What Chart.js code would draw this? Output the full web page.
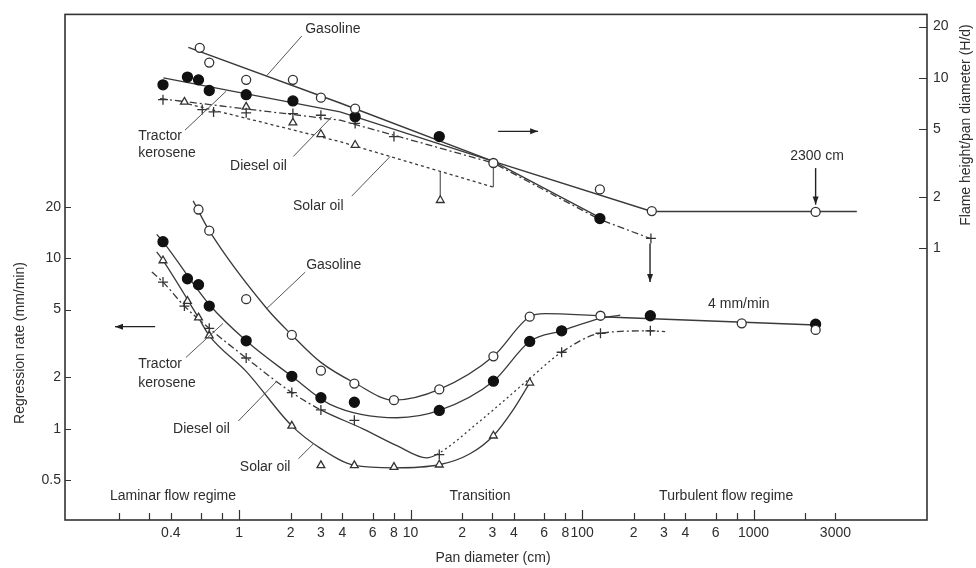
<!DOCTYPE html>
<html>
<head>
<meta charset="utf-8">
<script src="https://cdn.jsdelivr.net/npm/chart.js@4.4.1/dist/chart.umd.min.js"></script>
<style>
  html, body { margin: 0; padding: 0; background: #fff; }
  #wrap { width: 976px; height: 568px; }
</style>
</head>
<body>
<div id="wrap"><canvas id="c" width="976" height="568"></canvas></div>
<script>
// ---- Axis ticks ----
const xTickValues = [0.2, 0.3, 0.4, 0.6, 0.8, 1, 2, 3, 4, 6, 8, 10, 20, 30, 40, 60, 80, 100, 200, 300, 400, 600, 800, 1000, 2000, 3000];
const xTickLabels = ['', '', '0.4', '', '', '1', '2', '3', '4', '6', '8', '10', '2', '3', '4', '6', '8', '100', '2', '3', '4', '6', '', '1000', '', '3000'];
const xMajorTicks = [1, 10, 100, 1000];
const rateTicks = [0.5, 1, 2, 5, 10, 20];
const ratioTicks = [1, 2, 5, 10, 20];

// ---- Regression rate (mm/min) vs pan diameter (cm) ----
const gasRateD = [0.58, 0.67, 1.1, 2.03, 3.0, 4.7, 8.0, 14.7, 30.4, 49.5, 128, 853, 2300];
const gasRate  = [19.3, 14.5, 5.75, 3.55, 2.19, 1.84, 1.47, 1.70, 2.66, 4.54, 4.6, 4.15, 3.8];
const kerRateD = [0.36, 0.5, 0.58, 0.67, 1.1, 2.03, 3.0, 4.7, 14.7, 30.4, 49.5, 76, 250, 2300];
const kerRate  = [12.5, 7.58, 7.0, 5.24, 3.28, 2.03, 1.52, 1.43, 1.28, 1.9, 3.25, 3.75, 4.6, 4.1];
const dieRateD = [0.36, 0.48, 0.67, 1.1, 2.03, 3.0, 4.7, 14.7, 76, 128, 250];
const dieRate  = [7.25, 5.24, 3.88, 2.6, 1.63, 1.29, 1.12, 0.706, 2.81, 3.63, 3.75];
const solRateD = [0.36, 0.5, 0.58, 0.67, 2.03, 3.0, 4.7, 8.0, 14.7, 30.4, 49.5];
const solRate  = [9.7, 5.6, 4.48, 3.52, 1.04, 0.61, 0.61, 0.596, 0.615, 0.91, 1.86];

// smoothed trend curves for the regression rate
const gasCurveD = [0.54, 0.67, 1.45, 2.03, 3.0, 4.7, 8.0, 14.7, 30.4, 49.5, 60.9, 128];
const gasCurve  = [21.7, 14.5, 5.07, 3.55, 2.45, 1.86, 1.47, 1.70, 2.66, 4.54, 4.73, 4.6];
const turbLineD = [128, 2300];
const turbLine  = [4.54, 4.06];
const kerCurveD = [0.331, 0.36, 0.67, 1.1, 2.03, 3.39, 8.31, 14.7, 30.4, 49.5, 76, 128, 167];
const kerCurve  = [13.8, 12.5, 5.35, 3.28, 2.03, 1.39, 1.16, 1.28, 1.9, 3.25, 3.75, 4.44, 4.64];
const dieCurveD = [0.31, 0.36, 0.48, 0.67, 1.1, 2.03, 3.0, 5.31, 8.31, 12.4, 14.2, 25.4, 49.5, 76, 128, 250, 305];
const dieCurve  = [8.29, 7.25, 5.24, 3.88, 2.6, 1.63, 1.29, 0.996, 0.796, 0.675, 0.706, 1.11, 1.97, 2.81, 3.63, 3.75, 3.71];
const solCurveD = [0.331, 0.36, 0.58, 0.67, 1.1, 2.03, 3.0, 4.7, 8.0, 14.7, 22.2, 30.4, 39.8, 49.5];
const solCurve  = [10.9, 9.7, 4.48, 3.52, 2.17, 1.04, 0.765, 0.61, 0.59, 0.615, 0.713, 0.91, 1.30, 1.86];

// ---- Flame height / pan diameter (H/d) ----
const gasHDD = [0.59, 0.67, 1.1, 2.06, 3.0, 4.75, 30.4, 127, 255, 2300];
const gasHD  = [15.0, 12.3, 9.73, 9.73, 7.65, 6.6, 3.16, 2.21, 1.65, 1.63];
const kerHDD = [0.36, 0.5, 0.58, 0.67, 1.1, 2.06, 4.75, 14.7, 127];
const kerHD  = [9.1, 10.1, 9.73, 8.43, 7.96, 7.32, 5.9, 4.52, 1.49];
const dieHDD = [0.36, 0.61, 0.71, 1.1, 2.06, 3.0, 4.75, 8.0, 252];
const dieHD  = [7.44, 6.51, 6.31, 6.23, 6.17, 6.03, 5.4, 4.52, 1.14];
const solHDD = [0.48, 1.1, 2.06, 3.0, 4.75, 14.9];
const solHD  = [7.22, 6.75, 5.45, 4.66, 4.03, 1.91];

// fitted H/d lines
const gasHDLineD = [0.506, 3.88, 30.4, 255, 4000];
const gasHDLine  = [15.1, 7.12, 3.23, 1.64, 1.64];
const kerHDLineD = [0.362, 3.88, 30.4, 127];
const kerHDLine  = [10.0, 6.31, 3.23, 1.51];
const dieHDLineD = [0.346, 3.88, 30.4, 127, 249];
const dieHDLine  = [7.55, 5.64, 3.16, 1.47, 1.14];
const solHDLineD = [0.472, 3.88, 30.4];
const solHDLine  = [7.15, 4.22, 2.28];
const barAD = [30.4, 30.4];
const barA  = [3.16, 2.28];
const barBD = [14.9, 14.9];
const barB  = [2.83, 1.98];

// ---- Annotations (data coordinates) ----
const notes = [
  { text: 'Gasoline',   x: 2.43,  y: 19.3, axis: 'yR', align: 'left' },
  { text: 'Tractor',    x: 0.258, y: 4.52, axis: 'yR', align: 'left' },
  { text: 'kerosene',   x: 0.258, y: 3.61, axis: 'yR', align: 'left' },
  { text: 'Diesel oil', x: 0.886, y: 3.03, axis: 'yR', align: 'left' },
  { text: 'Solar oil',  x: 2.06,  y: 1.77, axis: 'yR', align: 'left' },
  { text: '2300 cm',    x: 2344,  y: 3.47, axis: 'yR', align: 'center' },
  { text: 'Gasoline',   x: 2.46,  y: 9.1,  axis: 'yL', align: 'left' },
  { text: 'Tractor',    x: 0.258, y: 2.39, axis: 'yL', align: 'left' },
  { text: 'kerosene',   x: 0.258, y: 1.86, axis: 'yL', align: 'left' },
  { text: 'Diesel oil', x: 0.412, y: 1.0,  axis: 'yL', align: 'left' },
  { text: 'Solar oil',  x: 1.01,  y: 0.596, axis: 'yL', align: 'left' },
  { text: '4 mm/min',   x: 543,   y: 5.4,  axis: 'yL', align: 'left' },
  { text: 'Laminar flow regime',   x: 0.412, y: 0.402, axis: 'yL', align: 'center' },
  { text: 'Transition',            x: 25.4,  y: 0.402, axis: 'yL', align: 'center' },
  { text: 'Turbulent flow regime', x: 692,   y: 0.402, axis: 'yL', align: 'center' }
];
const leaders = [
  { axis: 'yR', from: [2.32, 17.6], to: [1.45, 10.3] },
  { axis: 'yR', from: [0.484, 4.93], to: [0.84, 8.34] },
  { axis: 'yR', from: [2.07, 3.45], to: [3.47, 5.9] },
  { axis: 'yR', from: [4.54, 2.02], to: [7.6, 3.45] },
  { axis: 'yL', from: [1.45, 5.07], to: [2.43, 8.29] },
  { axis: 'yL', from: [0.49, 2.62], to: [0.807, 4.15] },
  { axis: 'yL', from: [0.99, 1.11], to: [1.66, 1.9] },
  { axis: 'yL', from: [2.22, 0.667], to: [2.71, 0.815] }
];
const arrows = [
  { axis: 'yR', from: [32.4, 4.85], to: [55.4, 4.85] },
  { axis: 'yR', from: [2300, 2.95], to: [2300, 1.80] },
  { axis: 'yL', from: [0.324, 3.97], to: [0.189, 3.97] },
  { axis: 'yL', from: [249, 12.2], to: [249, 7.25] }
];

const INK = '#2e2e2e';
const FONT = '"Liberation Sans", Arial, Helvetica, sans-serif';

function pts(xs, ys) { return xs.map((x, i) => ({ x: x, y: ys[i] })); }

function markers(xs, ys, axis, style, filled, radius) {
  return {
    type: 'line', data: pts(xs, ys), yAxisID: axis, showLine: false, order: 0,
    pointStyle: style, pointRadius: radius, pointHoverRadius: radius,
    pointBackgroundColor: filled ? '#111' : '#fff',
    pointBorderColor: filled ? '#111' : '#333',
    pointBorderWidth: 1.3
  };
}
function curve(xs, ys, axis, dash, smooth, extra) {
  return Object.assign({
    type: 'line', data: pts(xs, ys), yAxisID: axis, showLine: true, order: 1,
    pointRadius: 0, pointHoverRadius: 0,
    borderColor: '#3a3a3a', borderWidth: 1.3, borderDash: dash || [],
    cubicInterpolationMode: smooth ? 'monotone' : 'default', tension: 0, fill: false
  }, extra || {});
}

const DASHDOT = [7, 3, 2, 3];
const DOTTED = [3, 3];

const dieSegDash = ctx => {
  const i = ctx.p0DataIndex;
  if (i < 6) return DASHDOT;
  if (i < 10) return [];
  if (i < 13) return [2, 3];
  return DASHDOT;
};

const datasets = [
  // H/d markers
  markers(gasHDD, gasHD, 'yR', 'circle', false, 4.5),
  markers(kerHDD, kerHD, 'yR', 'circle', true, 5),
  markers(dieHDD, dieHD, 'yR', 'cross', false, 5),
  markers(solHDD, solHD, 'yR', 'triangle', false, 4.5),
  // regression rate markers
  markers(gasRateD, gasRate, 'yL', 'circle', false, 4.5),
  markers(kerRateD, kerRate, 'yL', 'circle', true, 5),
  markers(dieRateD, dieRate, 'yL', 'cross', false, 5),
  markers(solRateD, solRate, 'yL', 'triangle', false, 4.5),
  // H/d lines
  curve(gasHDLineD, gasHDLine, 'yR', [], false, { borderWidth: 1.5 }),
  curve(kerHDLineD, kerHDLine, 'yR', [], false, { borderWidth: 1.4 }),
  curve(dieHDLineD, dieHDLine, 'yR', DASHDOT, false),
  curve(solHDLineD, solHDLine, 'yR', DOTTED, false),
  curve(barAD, barA, 'yR', [], false, { borderColor: '#666' }),
  curve(barBD, barB, 'yR', [], false, { borderColor: '#666' }),
  // regression rate curves
  curve(gasCurveD, gasCurve, 'yL', [], true),
  curve(turbLineD, turbLine, 'yL', [], false, { borderWidth: 1.5 }),
  curve(kerCurveD, kerCurve, 'yL', [], true),
  curve(dieCurveD, dieCurve, 'yL', [], true, { segment: { borderDash: dieSegDash } }),
  curve(solCurveD, solCurve, 'yL', [], true)
];

function arrowHead(ctx, x1, y1, x2, y2) {
  const a = Math.atan2(y2 - y1, x2 - x1);
  const L = 8, W = 3;
  ctx.beginPath();
  ctx.moveTo(x2, y2);
  ctx.lineTo(x2 - L * Math.cos(a) + W * Math.sin(a), y2 - L * Math.sin(a) - W * Math.cos(a));
  ctx.lineTo(x2 - L * Math.cos(a) - W * Math.sin(a), y2 - L * Math.sin(a) + W * Math.cos(a));
  ctx.closePath();
  ctx.fill();
}

const decor = {
  id: 'decor',
  afterDraw(chart) {
    const ctx = chart.ctx;
    const a = chart.chartArea;
    const xs = chart.scales.x;
    const px = v => xs.getPixelForValue(v);
    const py = (axis, v) => chart.scales[axis].getPixelForValue(v);
    ctx.save();

    // frame
    ctx.strokeStyle = '#333';
    ctx.lineWidth = 1.6;
    ctx.strokeRect(a.left, a.top, a.right - a.left, a.bottom - a.top);

    // inward tick marks
    ctx.lineWidth = 1.2;
    ctx.beginPath();
    xTickValues.forEach(v => {
      const x = Math.round(px(v)) + 0.5;
      const len = xMajorTicks.includes(v) ? 10 : 7;
      ctx.moveTo(x, a.bottom);
      ctx.lineTo(x, a.bottom - len);
    });
    rateTicks.forEach(v => {
      const y = Math.round(py('yL', v)) + 0.5;
      ctx.moveTo(a.left, y);
      ctx.lineTo(a.left + 6, y);
    });
    ratioTicks.forEach(v => {
      const y = Math.round(py('yR', v)) + 0.5;
      ctx.moveTo(a.right, y);
      ctx.lineTo(a.right - 8, y);
    });
    ctx.stroke();

    // leader lines
    ctx.strokeStyle = '#555';
    ctx.lineWidth = 1;
    ctx.beginPath();
    leaders.forEach(l => {
      ctx.moveTo(px(l.from[0]), py(l.axis, l.from[1]));
      ctx.lineTo(px(l.to[0]), py(l.axis, l.to[1]));
    });
    ctx.stroke();

    // arrows
    ctx.strokeStyle = '#222';
    ctx.fillStyle = '#222';
    ctx.lineWidth = 1.4;
    arrows.forEach(r => {
      const x1 = px(r.from[0]), y1 = py(r.axis, r.from[1]);
      const x2 = px(r.to[0]), y2 = py(r.axis, r.to[1]);
      ctx.beginPath();
      ctx.moveTo(x1, y1);
      ctx.lineTo(x2, y2);
      ctx.stroke();
      arrowHead(ctx, x1, y1, x2, y2);
    });

    // labels
    ctx.fillStyle = INK;
    ctx.font = '14px ' + FONT;
    ctx.textBaseline = 'middle';
    notes.forEach(n => {
      ctx.textAlign = n.align;
      ctx.fillText(n.text, px(n.x), py(n.axis, n.y));
    });

    // axis titles
    ctx.textAlign = 'center';
    ctx.fillText('Pan diameter (cm)', (a.left + a.right) / 2 - 3, 558);
    ctx.save();
    ctx.translate(20, 343);
    ctx.rotate(-Math.PI / 2);
    ctx.fillText('Regression rate (mm/min)', 0, 0);
    ctx.restore();
    ctx.save();
    ctx.translate(966, 125);
    ctx.rotate(-Math.PI / 2);
    ctx.fillText('Flame height/pan diameter (H/d)', 0, 0);
    ctx.restore();

    ctx.restore();
  }
};

const logAxis = (pos, min, max, values, labels, size, pad) => ({
  type: 'logarithmic', position: pos, min: min, max: max, bounds: 'data',
  grid: { display: false, drawTicks: false },
  border: { display: false },
  afterBuildTicks: s => { s.ticks = values.map(v => ({ value: v })); },
  afterFit: s => { if (pos === 'bottom') s.height = size; else s.width = size; },
  ticks: {
    autoSkip: false, maxRotation: 0, minRotation: 0, padding: pad,
    color: INK, font: { size: 14, family: FONT },
    callback: (v, i) => labels[i]
  }
});

new Chart(document.getElementById('c'), {
  type: 'line',
  data: { datasets: datasets },
  options: {
    responsive: false,
    devicePixelRatio: 1,
    animation: false,
    events: [],
    layout: { padding: { top: 10, left: 0, right: 0, bottom: 0 }, autoPadding: false },
    plugins: { legend: { display: false }, tooltip: { enabled: false }, title: { display: false } },
    scales: {
      x: logAxis('bottom', 0.0966, 10260, xTickValues, xTickLabels, 48, 5),
      yL: logAxis('left', 0.2917, 269, rateTicks, rateTicks.map(String), 65, 4),
      yR: logAxis('right', 0.02527, 23.59, ratioTicks, ratioTicks.map(String), 49, 6)
    }
  },
  plugins: [decor]
});
</script>
</body>
</html>
